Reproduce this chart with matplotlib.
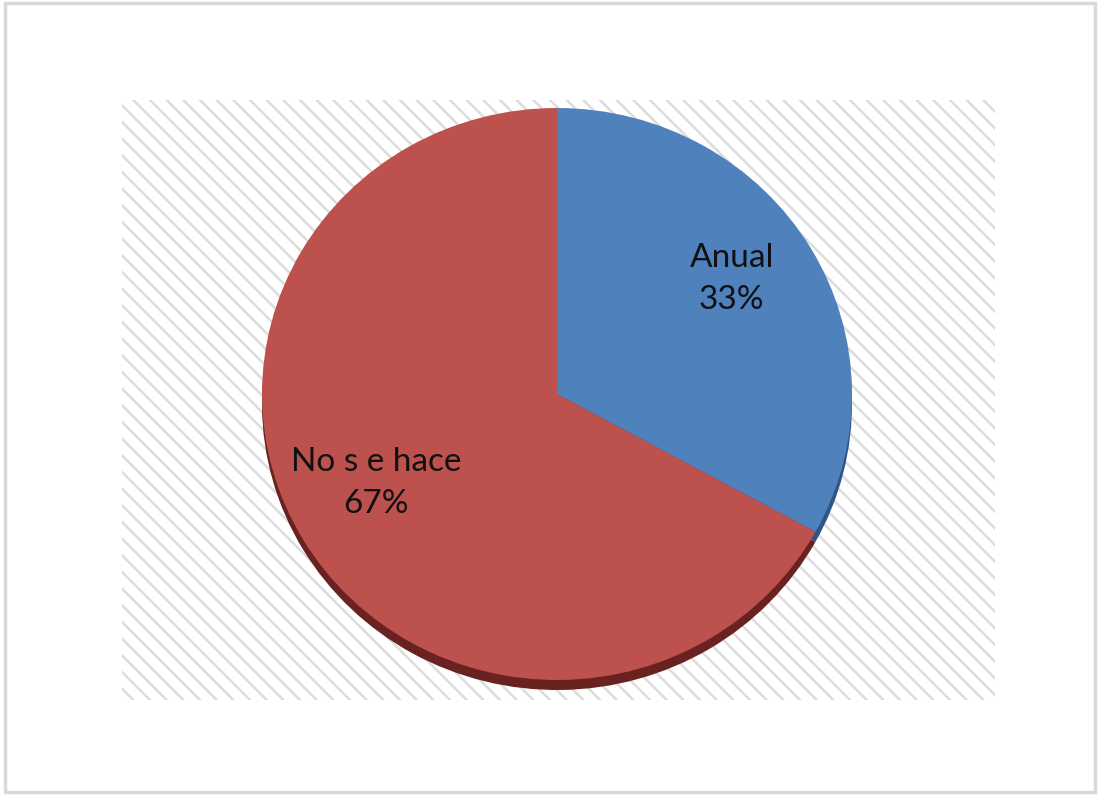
import matplotlib.pyplot as plt
from matplotlib.patches import Rectangle

plt.rcParams["font.family"] = ["Lato", "DejaVu Sans"]
plt.rcParams["hatch.linewidth"] = 1.8

categories = ["Anual", "No s e hace"]
shares = [33, 67]
colors = ["#4F81BD", "#BC514E"]
shadow_colors = ["#2E5587", "#6A2220"]

W, H = 1099, 795
fig = plt.figure(figsize=(W / 100, H / 100), dpi=100)
fig.patch.set_facecolor("white")

# light gray frame around the whole chart
fig.patches.append(Rectangle((5 / W, 3 / H), 1090 / W, 789 / H,
                             transform=fig.transFigure, fill=False,
                             edgecolor="#D9D9D9", linewidth=2.5))

# hatched plot area
bg = fig.add_axes([122 / W, (H - 700) / H, 873 / W, 600 / H])
bg.add_patch(Rectangle((0, 0), 1, 1, transform=bg.transAxes,
                       facecolor="white", edgecolor="#DCDCDC",
                       hatch="\\\\", linewidth=0))
bg.set_axis_off()

# pie, slightly squashed vertically
ax = fig.add_axes([262 / W, (H - 690) / H, 590 / W, 582 / H])
labels = [f"{c}\n{s}%" for c, s in zip(categories, shares)]

# dark rim underneath to give a little depth
ax.pie(shares, colors=shadow_colors, startangle=90, counterclock=False,
       center=(0, -0.035), wedgeprops=dict(linewidth=0))
wedges, texts = ax.pie(shares, labels=labels, colors=colors, startangle=90,
                       counterclock=False, labeldistance=0.7,
                       wedgeprops=dict(linewidth=0),
                       textprops=dict(ha="center", va="center",
                                      fontsize=24, color="#111111",
                                      linespacing=1.5))
# nudge the labels up a touch
for t in texts:
    x, y = t.get_position()
    t.set_position((x - 0.01, y + 0.045))

ax.set_aspect("auto")
ax.set_xlim(-1, 1)
ax.set_ylim(-1.035, 1)

fig.savefig("out.png", dpi=100, facecolor="white")
